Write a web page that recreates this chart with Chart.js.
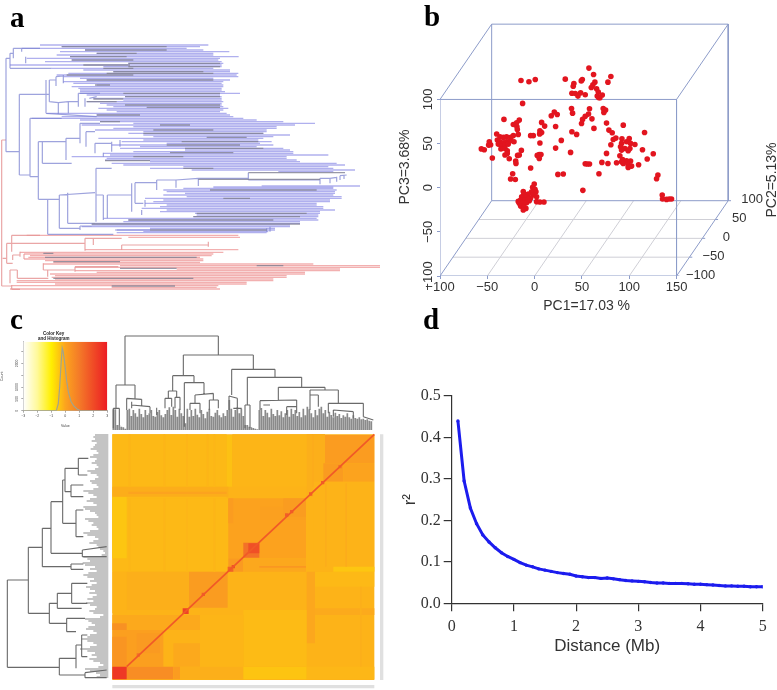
<!DOCTYPE html>
<html><head><meta charset="utf-8">
<script src="https://cdn.jsdelivr.net/npm/chart.js@4/dist/chart.umd.min.js"></script>
<style>
html,body{margin:0;padding:0;background:#fff;width:777px;height:690px;overflow:hidden}
canvas{position:absolute;display:block}
#ca,#cc,#ck{filter:blur(.6px)}
#cb,#cd{filter:blur(.4px)}
.p{position:absolute;font:bold 29px "Liberation Serif",serif;color:#000;line-height:30px}
</style></head><body>
<canvas id="ca" width="400" height="310" style="left:0;top:0"></canvas>
<canvas id="cc" width="400" height="380" style="left:0;top:310px"></canvas>
<canvas id="ck" width="115" height="105" style="left:0;top:325px"></canvas>
<canvas id="cb" width="392" height="320" style="left:385px;top:0"></canvas>
<canvas id="cd" width="377" height="380" style="left:400px;top:310px"></canvas>
<div class="p" style="left:10px;top:2px">a</div>
<div class="p" style="left:424px;top:1px">b</div>
<div class="p" style="left:10px;top:304px">c</div>
<div class="p" style="left:423px;top:304px">d</div>
<script>
/* ---------- panel a: tree (branch length, tip position) ---------- */
const aBlueRows=[[135,120,625],[140,185,600],[145,65,560],[150,255,610],[155,180,688],[160,290,640],[165,170,640],[170,210,716],[175,80,660],[180,215,655],[185,135,665],[190,385,670],[195,30,665],[200,310,665],[205,155,640],[210,250,690],[215,340,690],[220,205,715],[225,170,710],[230,190,715],[235,240,640],[240,260,690],[245,190,670],[250,220,665],[255,290,670],[260,215,670],[265,235,665],[270,240,665],[275,240,675],[280,240,720],[285,260,660],[290,375,665],[295,280,665],[300,370,665],[305,260,670],[310,300,665],[315,320,665],[320,340,670],[325,295,685],[330,320,670],[335,350,660],[340,140,680],[345,290,690],[350,185,700],[355,95,730],[360,240,770],[365,300,850],[370,400,945],[375,245,885],[380,400,830],[385,340,830],[390,285,800],[395,430,800],[400,385,790],[405,430,870],[410,460,820],[415,295,790],[420,430,775],[425,365,815],[430,500,780],[435,335,820],[440,420,770],[445,360,850],[450,555,870],[455,400,880],[460,310,880],[465,330,985],[470,215,860],[475,320,860],[480,315,890],[485,450,900],[490,335,1010],[495,370,1035],[500,550,985],[505,450,1000],[510,575,1065],[515,835,1000],[558,785,1080],[561,640,1000],[565,550,1000],[570,490,1010],[575,500,1005],[580,555,1005],[585,490,1000],[590,560,1025],[595,435,1025],[600,490,990],[605,460,990],[610,435,950],[615,500,950],[620,480,970],[625,425,970],[630,500,1005],[635,480,960],[640,585,960],[645,590,955],[650,580,955],[655,310,950],[660,385,955],[665,370,900],[670,285,900],[675,275,870],[680,245,870],[685,450,825],[690,350,825],[695,430,805],[698,350,800]];
const aRedRows=[[706,80,715],[712,385,720],[749,255,715],[757,60,670],[762,72,640],[767,90,635],[772,85,600],[777,72,610],[782,135,610],[787,160,600],[792,130,940],[797,360,1140],[802,225,1140],[807,530,1020],[812,225,1020],[817,290,915],[822,150,915],[827,165,860],[832,155,860],[837,165,820],[842,50,820],[847,50,740],[852,165,740],[857,35,655],[862,335,650],[867,30,660]];
const aGreyRows=[[140,185,500],[150,255,500],[160,290,410],[170,210,380],[180,215,400],[190,385,660],[195,250,390],[200,385,660],[205,310,400],[215,340,610],[220,320,640],[225,200,400],[240,260,640],[255,285,330],[280,370,660],[290,375,660],[297,280,370],[305,260,350],[315,375,660],[322,440,660],[345,290,420],[365,300,360],[375,480,570],[390,460,640],[400,430,790],[412,620,740],[425,545,775],[435,500,720],[445,555,790],[458,510,700],[470,400,550],[482,315,450],[505,550,640],[518,745,1035],[538,595,960],[570,630,950],[595,670,750],[640,590,920],[650,580,900],[660,385,820],[672,275,900],[690,450,800],[760,130,160],[772,135,590],[785,160,360],[797,770,850],[805,360,530],[835,160,580],[858,335,525]];
const aBlueBranches=[[18,175,18,455],[18,175,30,175],[30,160,30,205],[30,160,40,160],[40,145,40,175],[40,145,120,145],[65,145,65,155],[77,170,77,190],[30,205,155,205],[18,455,58,455],[58,283,58,525],[58,283,138,283],[58,525,90,525],[90,355,90,530],[90,355,185,355],[90,530,115,530],[138,240,138,340],[138,283,148,283],[148,240,148,305],[138,340,290,350],[148,240,168,240],[168,230,168,258],[168,230,190,228],[190,225,190,250],[148,305,175,308],[175,308,175,345],[175,308,205,305],[205,305,205,340],[205,305,235,305],[235,280,235,320],[235,280,300,280],[255,295,255,320],[268,295,290,290],[115,425,115,598],[115,425,198,425],[127,425,127,490],[127,490,215,490],[198,415,198,480],[198,415,240,415],[240,370,240,430],[240,370,300,370],[258,395,258,440],[258,395,285,395],[285,430,285,460],[285,430,335,430],[335,425,335,455],[360,420,360,440],[310,458,310,470],[115,598,143,598],[143,598,143,703],[143,703,340,703],[143,598,178,598],[178,585,178,685],[178,585,285,578],[203,578,203,670],[203,670,285,670],[178,685,240,685],[240,678,240,690],[240,678,275,678],[345,690,450,690],[288,505,288,665],[288,505,335,505],[288,585,310,585],[310,585,310,660],[322,585,322,655],[322,585,395,585],[395,550,395,635],[405,548,405,610],[405,548,470,548],[470,540,470,570],[470,540,528,540],[528,540,528,563],[528,540,595,535],[595,535,595,558],[595,535,745,535],[745,518,745,540],[745,540,960,540],[960,535,960,553],[960,535,990,535],[990,535,990,550],[990,535,1010,532],[1010,530,1010,545],[1020,527,1020,540],[1032,525,1032,537],[1020,527,1040,525],[800,685,800,695],[810,680,810,695],[405,610,430,610],[425,630,425,645],[435,600,435,620]];
const aRedBranches=[[5,420,5,858],[5,420,18,420],[5,858,35,858],[8,775,20,775],[20,730,20,790],[20,730,255,730],[20,790,38,790],[35,706,35,755],[35,706,120,706],[255,715,255,752],[255,715,365,715],[280,715,280,735],[365,735,495,735],[365,735,365,750],[495,735,625,735],[625,725,625,740],[38,765,38,780],[38,765,60,765],[60,755,60,770],[72,762,72,777],[30,810,30,850],[30,810,52,810],[52,810,52,835],[52,835,145,835],[130,790,130,810],[130,810,143,810],[143,810,143,830],[143,810,225,810],[225,800,225,815],[225,800,355,800],[35,855,35,868],[35,868,60,868]];

/* ---------- panel b: projected PCA scores ---------- */
const pc1Ticks=[-100,-50,0,50,100,150];
const pc2Ticks=[-100,-50,0,50,100];
const pc3Ticks=[-100,-50,0,50,100];
const pcaPoints=[[-14.4,121.5],[-6,120],[0.7,122.6],[-12.7,95.5],[57.4,135.5],[62.3,128.3],[80.6,126],[77.5,119.6],[32.4,123],[41.5,118],[40.8,115],[50.4,122.6],[49.3,121],[63.7,119.6],[61.6,116.6],[59.9,113.6],[65.5,112],[67.3,108.3],[39.4,107],[43,106.8],[48.6,107.5],[45.8,103.8],[53.5,105.3],[66.2,103.8],[71.5,105],[69,102],[67.6,102.3],[39,89.8],[40.1,84.5],[58,89.4],[57,83.4],[53.5,81],[50.7,77.4],[60.6,78],[49.6,72.8],[72.5,89.8],[75,88],[73.2,85.3],[20.8,85.7],[23.9,83],[17.6,81.5],[76,73.2],[62.7,67.2],[7.4,74],[10.6,69.8],[22.2,69.4],[5.6,64.5],[7.4,62.6],[5.3,61],[-1.4,59],[-4.2,59],[39.4,63.4],[44.4,60.4],[28.2,53.6],[5.6,50.6],[22.2,44.9],[38,40],[4.9,37.7],[6.7,37.7],[2.8,36.6],[4.9,33.2],[-4.2,22.3],[-32.4,77.4],[-16.2,76.6],[-19,73.6],[-22.5,71.7],[-18.7,69],[-18.3,66],[-17.3,60.4],[-22.5,59.2],[-25,57],[-40.1,60.8],[-36.6,57.7],[-33,57],[-29.6,57.7],[-39.4,54],[-36.6,52],[-33,51],[-29.6,52],[-26,53.2],[-21.8,52],[-38.4,49.4],[-34.9,47.5],[-31.3,48.3],[-27.8,49.4],[-35.6,43.8],[-31.3,44.5],[-28.9,41.9],[-47.9,52],[-48.6,48.3],[-46.5,48.7],[-56.3,44],[-53.2,43],[-44.7,33.6],[-31.3,37],[-28.9,38.9],[-26.8,32.8],[-18,36.6],[-16.2,37],[-14,42.3],[-20,30.2],[-19.7,27.5],[-23.2,15.8],[-25.4,9.8],[-20.4,9.4],[-0.4,4.2],[-2.1,0.4],[0.4,-1.9],[-12,-4.2],[-3.2,-4.5],[1.4,-4.5],[-11.3,-7.2],[-6.7,-7.2],[-1.4,-8.3],[2.1,-10.2],[-13.7,-10.2],[-9.2,-10.9],[-4.2,-11.7],[-17.3,-15.5],[-14.8,-14],[-10.2,-14],[-5.6,-14.7],[2.1,-15.8],[5.6,-16.2],[9.9,-16.2],[-16.2,-17.7],[-12.7,-17.7],[-8.5,-17],[-14.8,-20.8],[-11.3,-21.5],[-9.2,-23.4],[-12,-25.3],[-6.7,-13.2],[93.7,70.9],[116.2,62.6],[83.1,54.7],[85.9,56.2],[92.3,55.5],[100,55.8],[80.6,48.7],[91.9,50.2],[97.2,52],[101.4,50.2],[106,49],[90.8,46.4],[95.4,44.5],[100.7,44.5],[91.9,42.6],[98.9,41.9],[114,43],[76,38.9],[90.1,36.2],[93,32],[125.4,38.5],[119,32.5],[71.1,28.7],[77.5,27.5],[86.6,28.3],[91.9,29.4],[97.2,30.6],[101.4,30.2],[93.7,27.5],[98.9,25.7],[98.9,23],[102.5,24.5],[109.9,26],[53.5,27.2],[55.6,26.8],[58,26.8],[68,15.8],[24.6,15.1],[30.3,15.5],[51,-3],[78.5,65.3],[82,62.3],[130.3,14.3],[128.9,10.2],[134.9,-8.3],[135.2,-12.8],[139.4,-13.2],[142.3,-12.8],[144.7,-12.8]];

/* ---------- panel c: heat map and dendrograms ---------- */
const topLeafTops=[298,298,345,345,350,352,356,300,296,318,300,310,320,296,312,322,300,315,310,300,318,320,306,300,316,322,312,300,292,315,290,300,320,296,310,318,340,296,320,300,318,296,314,322,300,312,325,305,296,318,320,308,300,316,322,310,318,300,270,296,320,300,292,310,296,318,345,345,350,352,354,356,358,300,294,318,300,308,322,296,312,318,300,316,304,322,310,300,320,296,312,300,318,306,322,296,316,290,298,310,322,300,316,296,290,310,300,320,305,315,322,308,318,312,324,316,320,310,322,326,316,324,326,322,328,326,330,328,332,334];
const leftLeafStarts=[285,280,285,275,290,285,280,272,290,295,280,270,290,285,275,290,295,285,262,272,290,295,285,270,275,290,295,280,250,265,280,290,270,260,280,290,250,255,270,285,290,295,255,265,280,275,290,295,270,250,262,285,295,280,268,290,295,300,310,315,305,250,262,270,248,255,285,270,290,265,250,262,282,270,290,275,258,270,285,268,290,278,262,280,258,270,290,285,268,280,310,300,255,265,275,285,265,258,280,290,270,262,245,262,280,290,270,240,262,285,275,290,268,280,300,310,295,255,270,288,300,290];
const topBranches=[[375,78,655,78],[375,78,375,225],[655,78,655,135],[348,225,405,225],[348,225,348,295],[340,295,358,295],[340,295,340,355],[358,295,358,345],[405,225,405,265],[550,135,760,135],[550,135,550,197],[760,135,760,178],[518,197,582,197],[518,197,518,243],[582,197,582,218],[505,243,530,243],[505,243,505,265],[530,243,530,262],[553,218,612,218],[553,218,553,350],[612,218,612,255],[695,178,825,178],[695,178,695,255],[825,178,825,202],[742,202,905,202],[742,202,742,285],[905,202,905,232],[835,232,975,232],[835,232,835,270],[975,232,975,240],[930,240,1015,240],[930,240,930,255],[1015,240,1015,280],[985,280,1090,280],[985,280,985,310],[1090,280,1090,320],[380,265,425,268],[380,265,380,300],[425,268,425,290],[395,275,395,295],[395,285,450,290],[450,290,450,310],[470,293,470,315],[495,265,515,265],[495,265,495,295],[515,265,515,290],[525,262,540,262],[525,262,525,295],[540,262,540,300],[585,255,640,250],[585,255,585,280],[640,250,640,270],[570,280,600,280],[570,280,570,300],[600,280,600,310],[628,270,655,270],[628,270,628,300],[655,270,655,295],[687,258,712,265],[687,258,687,300],[712,265,712,295],[700,295,725,295],[735,285,750,285],[735,285,735,355],[750,285,750,355],[780,272,890,270],[780,272,780,300],[890,270,890,310],[790,285,810,285],[860,290,890,290],[860,290,860,315],[930,255,955,255],[930,255,930,300],[955,255,955,290],[1000,300,1060,305],[1000,300,1000,320],[1060,305,1060,325],[1090,320,1120,330]];
const leftBranches=[[22,810,22,1072],[22,810,85,810],[22,1072,178,1072],[85,712,85,910],[85,712,127,712],[85,910,148,910],[127,655,127,770],[127,655,153,655],[127,770,213,770],[153,575,153,730],[153,575,188,575],[153,730,247,730],[188,510,188,640],[188,510,195,510],[188,640,228,640],[195,475,195,545],[195,475,235,475],[195,545,213,545],[235,445,235,495],[213,525,213,560],[228,600,228,680],[213,762,213,778],[213,762,250,762],[213,778,250,778],[247,720,247,740],[247,720,320,710],[247,740,320,740],[148,880,148,940],[148,880,172,880],[148,940,200,940],[172,850,172,895],[172,850,215,850],[172,895,245,895],[200,925,200,965],[200,925,255,925],[200,965,228,965],[178,1045,178,1095],[178,1045,228,1045],[178,1095,255,1095],[228,1005,228,1075],[228,1005,245,1005],[255,1088,255,1103],[255,1088,320,1080],[255,1103,320,1103],[235,445,265,445],[235,495,262,495],[213,525,250,525],[213,560,250,560],[228,600,250,600],[228,680,250,680],[215,820,215,880],[215,820,262,820],[215,880,262,880],[245,975,245,1040],[245,975,262,975],[245,1040,262,1040]];
/* heat blocks: [x0,y0,x1,y1,value on the colour key] */
const heatBlocks=[[337,373,1123,1110,-.2],[337,373,680,565,-.28],[337,565,685,785,-.28],[337,560,380,745,-.45],[680,375,697,530,-.38],[697,373,975,530,-.22],[920,373,975,560,-.15],[975,375,1123,460,.18],[970,460,1030,515,.22],[1030,460,1123,515,.03],[940,515,1123,785,-.2],[337,530,685,560,-.12],[385,545,680,552,.02],[685,565,918,745,.04],[685,565,700,640,.18],[780,590,918,630,.1],[850,565,918,620,.2],[685,745,730,785,.25],[730,745,918,785,-.05],[778,768,918,773,.3],[730,698,778,743,1.2],[745,700,778,730,1.9],[683,770,700,785,1.5],[567,785,683,893,.2],[380,785,567,900,-.14],[337,785,380,910,-.2],[920,785,945,1000,-.04],[945,785,1123,830,-.28],[1000,770,1123,785,-.45],[945,895,1123,915,-.08],[548,895,566,912,2.2],[337,915,720,960,-.06],[337,960,490,1070,.12],[337,940,380,960,.45],[337,980,380,1070,.35],[410,970,480,1030,.25],[520,1000,600,1070,-.06],[337,1070,520,1108,.55],[337,1070,380,1108,2.4],[520,1070,540,1108,.18],[540,1070,730,1108,-.15],[730,1070,920,1108,-.42],[920,1070,1123,1108,-.25],[730,900,920,1070,-.3],[600,915,730,1070,-.22]];
const heatStripes=[[385,392,373,530,-.23],[490,496,373,530,-.23],[558,564,373,530,-.23],[620,626,373,530,-.23],[640,646,373,530,-.24],[385,392,565,785,-.24],[490,496,565,785,-.23],[558,564,565,785,-.24],[640,646,565,785,-.23],[936,941,373,530,-.1],[1036,1041,520,770,-.1],[975,980,520,770,-.12],[1080,1085,830,1070,-.14]];
const heatDiagonalEnds=[[380,1070],[1123,373]];
const diagonalSpots=[[860,615,1.6],[875,605,1.6],[968,518,1.6],[932,552,1.6],[700,770,1.9],[610,853,1.6],[415,1035,1.2],[1020,470,1.2]];
const labelStrips=[[1140,373,1150,1110],[337,1125,1123,1135]];

/* colour key */
const keyStops=[[-3,'#ffffff'],[-2,'#fff99a'],[-1,'#ffef00'],[0,'#fca41e'],[1,'#f47a28'],[3,'#ec1c24']];
const keyHistX=[-3,-.64,-.5,-.4,-.3,-.22,-.15,-.02,.1,.22,.4,.6,.84,1.09,3];
const keyHistY=[0,0,300,1000,2000,2650,2500,1900,1250,800,400,200,70,0,0];
const keyXTicks=[-3,-2,-1,0,1,2,3];
const keyYTicks=[0,500,1000,1500,2000,2500];
const keyYLabels=['0','500','1000','','2000',''];

/* ---------- panel d: LD decay ---------- */
const distance=[.1,.2,.3,.4,.5,.6,.7,.8,.9,1,1.1,1.2,1.3,1.4,1.5,1.6,1.7,1.8,1.9,2,2.1,2.2,2.3,2.4,2.5,2.6,2.7,2.8,2.9,3,3.1,3.2,3.3,3.4,3.5,3.6,3.7,3.8,3.9,4,4.1,4.2,4.3,4.4,4.5,4.6,4.7,4.8,4.9,5];
const r2=[.44,.295,.23,.192,.165,.148,.134,.122,.113,.106,.098,.092,.088,.083,.08,.077,.074,.072,.07,.066,.064,.062,.062,.06,.061,.059,.057,.055,.054,.053,.052,.05,.049,.049,.048,.048,.048,.047,.046,.046,.045,.044,.043,.042,.042,.041,.041,.04,.04,.04];

/* ---------- helpers ---------- */
Chart.defaults.animation=false;
Chart.defaults.responsive=false;
Chart.defaults.events=[];
Chart.defaults.plugins.legend.display=false;
Chart.defaults.plugins.tooltip.enabled=false;
const SANS='"Liberation Sans",Arial,sans-serif', SERIF='"Liberation Serif",serif';
const gap={x:null,y:null};
const segs=l=>l.flatMap(s=>[{x:s[0],y:s[1]},{x:s[2],y:s[3]},gap]);
const rows=l=>l.flatMap(r=>[{x:r[1],y:r[0]},{x:r[2],y:r[0]},gap]);
const lineDs=(data,color,w)=>({data,borderColor:color,borderWidth:w,pointRadius:0,tension:0,fill:false,spanGaps:false,borderCapStyle:'butt'});
const rectDs=(r,color)=>({data:[{x:r[0],y:r[1]},{x:r[2],y:r[1]},{x:r[2],y:r[3]},{x:r[0],y:r[3]},{x:r[0],y:r[1]}],borderWidth:0,pointRadius:0,tension:0,fill:'shape',backgroundColor:color,borderColor:'transparent'});
const hex=h=>[1,3,5].map(i=>parseInt(h.substr(i,2),16));
function keyColor(v){
  for(let i=1;i<keyStops.length;i++){
    if(v<=keyStops[i][0]){
      const [a,ca]=keyStops[i-1],[b,cb]=keyStops[i],t=(v-a)/(b-a),A=hex(ca),B=hex(cb);
      return `rgb(${A.map((c,k)=>Math.round(c+(B[k]-c)*t)).join(',')})`;
    }
  }
  return keyStops[keyStops.length-1][1];
}
const hiddenScales=(w,h)=>({x:{type:'linear',min:0,max:w,display:false},y:{type:'linear',min:0,max:h,reverse:true,display:false}});

/* ---------- a ---------- */
new Chart(document.getElementById('ca'),{type:'line',data:{datasets:[
  lineDs(rows(aGreyRows),'rgba(128,128,145,.8)',1.3),
  lineDs(segs(aBlueBranches),'rgba(125,132,210,.75)',1.2),
  lineDs(segs(aRedBranches),'rgba(230,150,150,.85)',1.2),
  lineDs(rows(aBlueRows),'rgba(145,145,232,.72)',1.35),
  lineDs(rows(aRedRows),'rgba(238,150,150,.75)',1.3)
]},options:{scales:hiddenScales(1200,930)}});

/* ---------- c ---------- */
const cSets=[];
cSets.push(lineDs(segs(topBranches),'#6a6a6a',1.1));
cSets.push(lineDs(segs(leftBranches),'#6a6a6a',1.1));
cSets.push(lineDs(topLeafTops.flatMap((t,i)=>[{x:340+6*i,y:t},{x:340+6*i,y:360},gap]),'#8a8a8a',1.7));
cSets.push(lineDs(leftLeafStarts.flatMap((s,i)=>[{x:s,y:375+6*i},{x:325,y:375+6*i},gap]),'#8a8a8a',1.2));
cSets.push(lineDs(segs([[heatDiagonalEnds[0][0],heatDiagonalEnds[0][1],heatDiagonalEnds[1][0],heatDiagonalEnds[1][1]]]),keyColor(1.7),1.7));
diagonalSpots.forEach(s=>cSets.push(rectDs([s[0]-5,s[1]-5,s[0]+5,s[1]+5],keyColor(s[2]))));
[...heatStripes].reverse().forEach(s=>cSets.push(rectDs([s[0],s[2],s[1],s[3]],keyColor(s[4]))));
[...heatBlocks].reverse().forEach(b=>cSets.push(rectDs(b,keyColor(b[4]))));
labelStrips.forEach(s=>cSets.push(rectDs(s,'#e0e0e0')));
new Chart(document.getElementById('cc'),{type:'line',data:{datasets:cSets},options:{scales:hiddenScales(1200,1140)}});

/* colour key with histogram */
new Chart(document.getElementById('ck'),{type:'line',data:{datasets:[
  lineDs(keyHistX.map((x,i)=>({x,y:keyHistY[i]})),'#a3a38c',1.2),
  {data:[{x:-3,y:0},{x:3,y:0},{x:3,y:2915},{x:-3,y:2915},{x:-3,y:0}],borderWidth:0,pointRadius:0,tension:0,fill:'shape',
   backgroundColor:c=>{const ch=c.chart,a=ch.chartArea;if(!a)return '#f9a51e';const g=ch.ctx.createLinearGradient(a.left,0,a.right,0);keyStops.forEach(s=>g.addColorStop((s[0]+3)/6,s[1]));return g;}}
]},options:{
  layout:{padding:{top:6,right:7.7}},
  plugins:{title:{display:true,text:['Color Key','and Histogram'],color:'#222',padding:0,font:{family:SANS,size:4.5,weight:'bold',lineHeight:1.2}}},
  scales:{
    x:{type:'linear',min:-3,max:3,border:{color:'#555',width:.5},grid:{drawOnChartArea:false,tickLength:2,color:'#555',lineWidth:.5},
       afterBuildTicks:s=>{s.ticks=keyXTicks.map(v=>({value:v}));},afterFit:s=>{s.height=19.3;},
       title:{display:true,text:'Value',color:'#444',font:{family:SANS,size:3.5},padding:{top:1,bottom:2}},
       ticks:{color:'#444',font:{family:SANS,size:3.5},padding:1,maxRotation:0,callback:v=>String(v).replace('-','−')}},
    y:{type:'linear',min:0,max:2915,border:{color:'#555',width:.5},grid:{drawOnChartArea:false,tickLength:2,color:'#555',lineWidth:.5},
       afterBuildTicks:s=>{s.ticks=keyYTicks.map(v=>({value:v}));},afterFit:s=>{s.width=23.3;},
       title:{display:true,text:'Count',color:'#444',font:{family:SANS,size:3.5},padding:{top:0,bottom:0}},
       ticks:{color:'#444',font:{family:SANS,size:3.5},padding:0,minRotation:90,maxRotation:90,crossAlign:'center',callback:v=>keyYLabels[keyYTicks.indexOf(v)]}}
  }}});

/* ---------- b ---------- */
/* oblique projection of (PC1,PC2,PC3) on to the PC1/PC3 plane */
const proj=(a,b,c)=>({x:a+(b+100)/200*54.6,y:c+(b+100)/200*85.3});
const edge=(p,q)=>[proj(...p),proj(...q),gap];
const boxEdges=[
  ...edge([-100,-100,100],[150,-100,100]),...edge([150,-100,100],[150,-100,-100]),...edge([150,-100,-100],[-100,-100,-100]),...edge([-100,-100,-100],[-100,-100,100]),
  ...edge([-100,100,100],[150,100,100]),...edge([150,100,100],[150,100,-100]),...edge([150,100,-100],[-100,100,-100]),...edge([-100,100,-100],[-100,100,100]),
  ...edge([-100,-100,100],[-100,100,100]),...edge([150,-100,100],[150,100,100]),...edge([-100,-100,-100],[-100,100,-100]),...edge([150,-100,-100],[150,100,-100])];
const floorGrid=[
  ...pc1Ticks.slice(1,-1).flatMap(v=>edge([v,-100,-100],[v,100,-100])),
  ...pc2Ticks.slice(1,-1).flatMap(v=>edge([-100,v,-100],[150,v,-100]))];
const pc2Marks=pc2Ticks.flatMap(v=>[proj(150,v,-100),{x:proj(150,v,-100).x+3,y:proj(150,v,-100).y},gap]);
const bText={id:'bText',afterDraw(ch){
  const c=ch.ctx,sx=ch.scales.x,sy=ch.scales.y;
  c.save();c.fillStyle='#333';c.font='13px '+SANS;c.textAlign='center';c.textBaseline='middle';
  pc2Ticks.forEach(v=>{const p=proj(150,v,-100);c.fillText(String(v).replace('-','−'),sx.getPixelForValue(p.x)+24,sy.getPixelForValue(p.y)-1);});
  c.font='14px '+SANS;
  c.translate(387,180);c.rotate(-Math.PI/2);c.fillText('PC2=5.13%',0,0);c.restore();
  c.save();c.fillStyle='#333';c.font='14px '+SANS;c.textAlign='center';c.textBaseline='middle';
  c.translate(20,167);c.rotate(-Math.PI/2);c.fillText('PC3=3.68%',0,0);c.restore();
}};
new Chart(document.getElementById('cb'),{type:'line',plugins:[bText],data:{datasets:[
  {type:'scatter',data:pcaPoints.map(p=>({x:p[0],y:p[1]})),backgroundColor:'#e2151f',borderColor:'#e2151f',pointRadius:2.8,borderWidth:0,pointBorderWidth:0,showLine:false},
  lineDs(boxEdges,'#8d9cc9',1),
  lineDs(pc2Marks,'#8d9cc9',1),
  lineDs(floorGrid,'#cfcfd6',1)
]},options:{
  layout:{padding:{top:20,right:43.7}},
  scales:{
    x:{type:'linear',min:-100,max:210,border:{display:false},grid:{drawOnChartArea:false,tickLength:3,color:'#8d9cc9'},
       afterBuildTicks:s=>{s.ticks=pc1Ticks.map(v=>({value:v}));},afterFit:s=>{s.height=44;},
       title:{display:true,text:'PC1=17.03 %',color:'#333',font:{family:SANS,size:14},padding:{top:6,bottom:5}},
       ticks:{color:'#333',font:{family:SANS,size:13},padding:1,maxRotation:0,callback:v=>String(v).replace('-','−')}},
    y:{type:'linear',min:-100,max:190,border:{display:false},grid:{drawOnChartArea:false,tickLength:3,color:'#8d9cc9'},
       afterBuildTicks:s=>{s.ticks=pc3Ticks.map(v=>({value:v}));},afterFit:s=>{s.width=55;},
       ticks:{color:'#333',font:{family:SANS,size:13},padding:-6,minRotation:90,maxRotation:90,crossAlign:'center',callback:v=>String(v).replace('-','−')}}
  }}});

/* ---------- d ---------- */
new Chart(document.getElementById('cd'),{type:'line',data:{datasets:[
  {data:distance.map((x,i)=>({x,y:r2[i]})),borderColor:'#1c1cee',backgroundColor:'#1c1cee',borderWidth:3,pointRadius:1.7,pointBorderWidth:0,borderCapStyle:'butt',tension:0,fill:false}
]},options:{
  layout:{padding:{top:86,right:14.3,bottom:33.7}},
  scales:{
    x:{type:'linear',min:0,max:5,border:{color:'#333',width:1.2},grid:{drawOnChartArea:false,tickLength:8,color:'#333',lineWidth:1.2},
       afterFit:s=>{s.height=53;},
       title:{display:true,text:'Distance (Mb)',color:'#333',font:{family:SANS,size:17},padding:{top:2,bottom:0}},
       ticks:{stepSize:1,color:'#333',font:{family:SERIF,size:16},padding:6,maxRotation:0}},
    y:{type:'linear',min:0,max:.5,border:{color:'#333',width:1.2},grid:{drawOnChartArea:false,tickLength:8,color:'#333',lineWidth:1.2},
       afterFit:s=>{s.width=51.7;},
       title:{display:true,text:'r²',color:'#333',font:{family:SANS,size:17},padding:0},
       ticks:{stepSize:.1,color:'#333',font:{family:SERIF,size:16},padding:3,callback:v=>v.toFixed(1)}}
  }}});
</script>
</body></html>
